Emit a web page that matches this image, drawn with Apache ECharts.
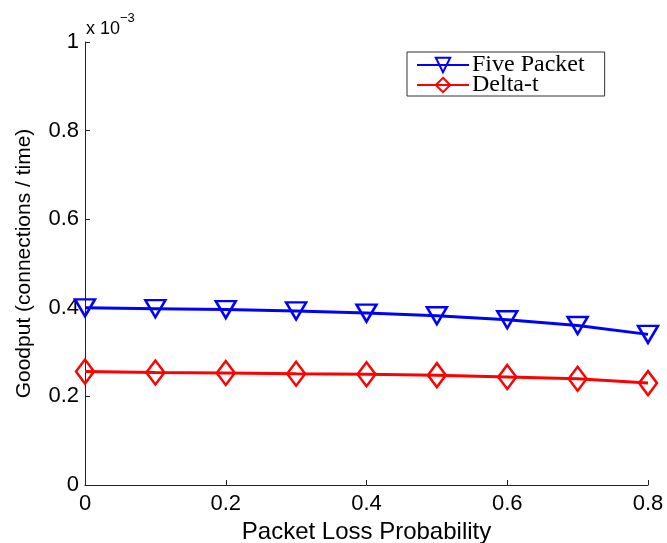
<!DOCTYPE html>
<html>
<head>
<meta charset="utf-8">
<style>
  html, body { margin: 0; padding: 0; background: #fff; }
  #chart { width: 667px; height: 543px; }
</style>
</head>
<body>
<div id="chart"></div>
<script src="https://cdn.jsdelivr.net/npm/echarts@6/dist/echarts.min.js"></script>
<script type="text/javascript">
// packet loss probability (x)
var lossProb = [0, 0.1, 0.2, 0.3, 0.4, 0.5, 0.6, 0.7, 0.8];
// goodput, in units of 1e-3
var fivePacket = [0.400, 0.398, 0.396, 0.393, 0.388, 0.382, 0.373, 0.360, 0.340];
var deltaT     = [0.256, 0.254, 0.253, 0.251, 0.250, 0.248, 0.244, 0.240, 0.230];
var seriesNames = ['Five Packet', 'Delta-t'];

function pairs(xs, ys) {
    return xs.map(function (x, i) { return [x, ys[i]]; });
}

var myChart = echarts.init(document.getElementById('chart'));

var sans = 'Liberation Sans, Arial, sans-serif';

var option = {
    animation: false,
    backgroundColor: '#fff',
    grid: { left: 85, right: 19, top: 42, bottom: 58, containLabel: false, outerBoundsMode: 'none' },
    legend: {
        orient: 'vertical',
        left: 407,
        top: 52,
        data: seriesNames,
        itemWidth: 52,
        itemHeight: 18,
        itemGap: -4,
        padding: [1, 20, -1, 9],
        borderColor: '#333',
        borderWidth: 1,
        backgroundColor: '#fff',
        textStyle: { fontFamily: 'Liberation Serif, Times New Roman, serif', fontSize: 24, lineHeight: 18, color: '#000', padding: [0, 0, 0, -2] }
    },
    graphic: [{
        type: 'text',
        left: 86,
        top: 12,
        style: {
            text: '{a|x 10}{b|−3}',
            rich: {
                a: { fontFamily: sans, fontSize: 18, fill: '#000', verticalAlign: 'bottom', lineHeight: 26 },
                b: { fontFamily: sans, fontSize: 13, fill: '#000', verticalAlign: 'top', lineHeight: 26, padding: [0, 0, 12, 0] }
            }
        }
    }],
    xAxis: {
        type: 'value',
        min: 0,
        max: 0.8,
        interval: 0.2,
        name: 'Packet Loss Probability',
        nameLocation: 'middle',
        nameGap: 27,
        nameTextStyle: { fontFamily: sans, fontSize: 24, color: '#000' },
        axisLine: { lineStyle: { color: '#222', width: 1 } },
        axisTick: { inside: true, length: 5, lineStyle: { color: '#222' } },
        axisLabel: { margin: 8, fontFamily: sans, fontSize: 22, color: '#000' },
        splitLine: { show: false }
    },
    yAxis: {
        type: 'value',
        min: 0,
        max: 1,
        interval: 0.2,
        name: 'Goodput (connections / time)',
        nameLocation: 'middle',
        nameGap: 50,
        nameTextStyle: { fontFamily: sans, fontSize: 21, color: '#000' },
        axisLine: { show: true, lineStyle: { color: '#222', width: 1 } },
        axisTick: { show: true, inside: true, length: 5, lineStyle: { color: '#222' } },
        axisLabel: { margin: 6, fontFamily: sans, fontSize: 22, color: '#000' },
        splitLine: { show: false }
    },
    series: [
        {
            name: seriesNames[0],
            type: 'line',
            data: pairs(lossProb, fivePacket),
            symbol: 'triangle',
            symbolRotate: 180,
            symbolSize: [20, 17],
            showAllSymbol: true,
            lineStyle: { color: '#0000ff', width: 3 },
            itemStyle: { color: 'transparent', borderColor: '#0000ff', borderWidth: 2.5 },
            z: 3
        },
        {
            name: seriesNames[1],
            type: 'line',
            data: pairs(lossProb, deltaT),
            symbol: 'diamond',
            symbolSize: [18, 24],
            showAllSymbol: true,
            lineStyle: { color: '#ff0000', width: 3 },
            itemStyle: { color: 'transparent', borderColor: '#ff0000', borderWidth: 2.5 },
            z: 2
        }
    ]
};
myChart.setOption(option);
</script>
</body>
</html>
